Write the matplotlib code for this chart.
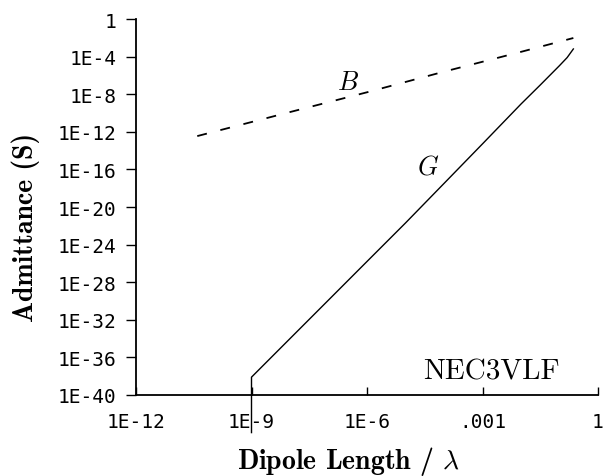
import matplotlib
matplotlib.use("Agg")
import matplotlib.pyplot as plt

plt.rcParams["mathtext.fontset"] = "cm"

# Conductance G and susceptance B of a short dipole versus length (in wavelengths)
g_length = [1e-9, 1e-9, 1e-8, 1e-7, 1e-6, 1e-5, 1e-4, 1e-3, 1e-2, 3.2e-2, 1e-1,
            0.158, 0.229]
g_admittance = [1e-44, 7.9e-39, 1e-34, 1.26e-30, 1.6e-26, 2.0e-22, 3.2e-18,
                5.2e-14, 9.0e-10, 1e-7, 1.1e-5, 7.9e-5, 6.5e-4]

b_length = [3.9e-11, 1e-8, 1e-6, 1e-4, 1e-2, 0.229]
b_admittance = [3.5e-13, 1.26e-10, 1.6e-8, 2.5e-6, 3.2e-4, 9.5e-3]

x_ticks = [1e-12, 1e-9, 1e-6, 1e-3, 1]
x_tick_labels = ["1E-12", "1E-9", "1E-6", ".001", "1"]
y_ticks = [1, 1e-4, 1e-8, 1e-12, 1e-16, 1e-20, 1e-24, 1e-28, 1e-32, 1e-36, 1e-40]
y_tick_labels = ["1", "1E-4", "1E-8", "1E-12", "1E-16", "1E-20", "1E-24",
                 "1E-28", "1E-32", "1E-36", "1E-40"]

fig = plt.figure(figsize=(6.03, 4.77), dpi=100)
ax = fig.add_axes([136 / 603, 1 - 396 / 477, (598 - 136) / 603, (396 - 20) / 477])

ax.plot(g_length, g_admittance, color="black", lw=1.0, clip_on=False)
ax.plot(b_length, b_admittance, color="black", lw=1.3, dashes=(5.5, 7.7))

ax.set_xscale("log")
ax.set_yscale("log")
ax.set_xlim(1e-12, 1)
ax.set_ylim(1e-40, 1)

ax.set_xticks(x_ticks)
ax.set_xticklabels(x_tick_labels)
ax.set_yticks(y_ticks)
ax.set_yticklabels(y_tick_labels)
ax.minorticks_off()

for lab in ax.get_xticklabels() + ax.get_yticklabels():
    lab.set_fontfamily("DejaVu Sans Mono")
    lab.set_fontsize(14)

ax.tick_params(axis="y", direction="out", length=7.5, width=1.0, pad=6.5)
ax.tick_params(axis="x", direction="in", length=6, width=1.0, pad=12)

for side in ("top", "right"):
    ax.spines[side].set_visible(False)
for side in ("left", "bottom"):
    ax.spines[side].set_linewidth(1.3)

ax.text(10**-6.5, 10**-6.7, r"$B$", fontsize=19, ha="center", va="center")
ax.text(10**-4.42, 10**-15.7, r"$G$", fontsize=19, ha="center", va="center")
ax.text(10**-2.76, 10**-37.45, "NEC3VLF", family="cmr10", fontsize=21,
        ha="center", va="center")

fig.text(26 / 603, 1 - 227 / 477, "Admittance (S)", family="cmb10", fontsize=20,
         rotation=90, ha="center", va="center")
fig.text(348 / 603, 1 - 462 / 477, r"Dipole Length / $\lambda$", family="cmb10",
         fontsize=20, ha="center", va="center")

fig.savefig("out.png", dpi=100)
